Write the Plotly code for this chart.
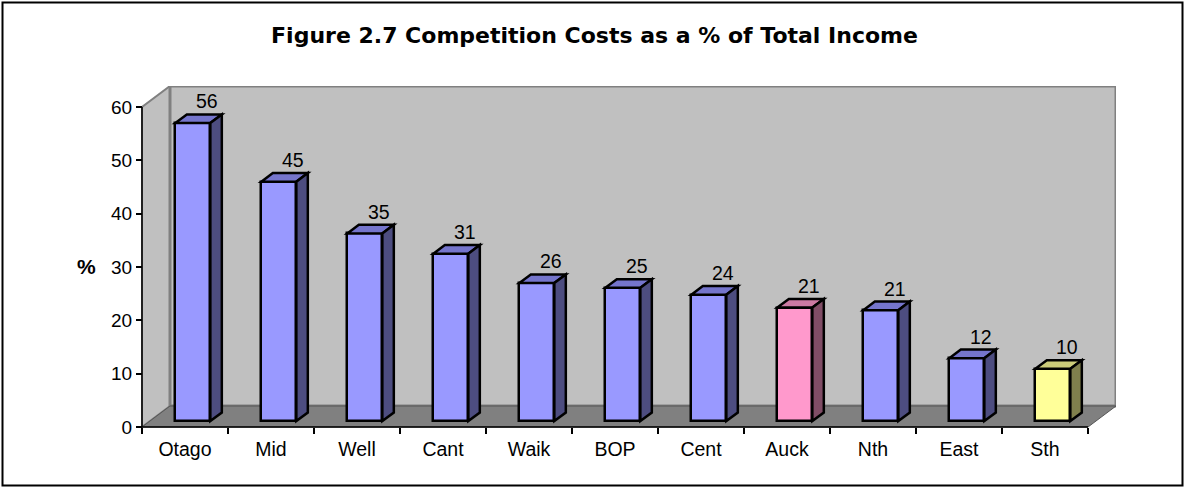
import plotly.graph_objects as go

# ---- data ----
categories = ["Otago", "Mid", "Well", "Cant", "Waik", "BOP", "Cent", "Auck", "Nth", "East", "Sth"]
values = [55.9, 44.9, 35.2, 31.4, 25.9, 25.0, 23.7, 21.3, 20.8, 11.8, 9.8]
value_labels = ["56", "45", "35", "31", "26", "25", "24", "21", "21", "12", "10"]
bar_group = ["blue", "blue", "blue", "blue", "blue", "blue", "blue", "pink", "blue", "blue", "yellow"]
y_ticks = [0, 10, 20, 30, 40, 50, 60]
title_text = "Figure 2.7 Competition Costs as a % of Total Income"
y_label = "%"

# ---- styling ----
palette = {
    "blue": ("#9999FF", "#7575CC", "#4D4D80"),
    "pink": ("#FF99CC", "#CC7AA3", "#804D66"),
    "yellow": ("#FFFF99", "#CCCC7A", "#80804D"),
}
FONT = "Liberation Sans, Arial, sans-serif"
TFONT = "DejaVu Sans, Verdana, sans-serif"
W, H = 1184, 488
ML, MR, MT, MB = 140, 68, 86, 59
ymax = 60
DX = 28 / 86.0          # depth offset in category units
DY = 21 / (320 / 60.0)  # depth offset in value units
f1, f2 = 0.28, 0.69     # bar depth position (front, back) as fraction of box depth
bw = 0.407              # bar width in category units
n = len(categories)

xr = [-0.5 - 2 / 86.0, n - 0.5 + DX]
yr = [-2 / (320 / 60.0), ymax + DY]

plot_w = W - ML - MR
plot_h = H - MT - MB


def px_to_paper_x(px):
    return (px - ML) / plot_w


def px_to_paper_y(py):
    return (H - MB - py) / plot_h


def poly(pts):
    return "M " + " L ".join(f"{x},{y}" for x, y in pts) + " Z"


shapes = []
x0, x1 = -0.5, n - 0.5
# left wall
shapes.append(dict(type="path", xref="x", yref="y", layer="below",
                   path=poly([(x0, 0), (x0, ymax), (x0 + DX, ymax + DY), (x0 + DX, DY)]),
                   fillcolor="#C0C0C0", line=dict(color="#808080", width=2)))
# back wall
shapes.append(dict(type="path", xref="x", yref="y", layer="below",
                   path=poly([(x0 + DX, DY), (x0 + DX, ymax + DY), (x1 + DX, ymax + DY), (x1 + DX, DY)]),
                   fillcolor="#C0C0C0", line=dict(color="#808080", width=3)))
# floor
shapes.append(dict(type="path", xref="x", yref="y", layer="below",
                   path=poly([(x0, 0), (x1, 0), (x1 + DX, DY), (x0 + DX, DY)]),
                   fillcolor="#808080", line=dict(color="#555555", width=1)))
# axis lines
shapes.append(dict(type="line", xref="x", yref="y", layer="below",
                   x0=x0, y0=0, x1=x0, y1=ymax, line=dict(color="black", width=1.5)))
shapes.append(dict(type="line", xref="x", yref="y", layer="below",
                   x0=x0, y0=0, x1=x1, y1=0, line=dict(color="black", width=1.5)))

# 3D top and side faces of bars
ddx = (f2 - f1) * DX
ddy = (f2 - f1) * DY
base = f1 * DY
annotations = []
for i, (v, g) in enumerate(zip(values, bar_group)):
    front, top, side = palette[g]
    xL = i + f1 * DX - bw / 2
    xR = xL + bw
    T = v + base
    shapes.append(dict(type="path", xref="x", yref="y", layer="above",
                       path=poly([(xL, T), (xR, T), (xR + ddx, T + ddy), (xL + ddx, T + ddy)]),
                       fillcolor=top, line=dict(color="black", width=2.5)))
    shapes.append(dict(type="path", xref="x", yref="y", layer="above",
                       path=poly([(xR, base), (xR, T), (xR + ddx, T + ddy), (xR + ddx, base + ddy)]),
                       fillcolor=side, line=dict(color="black", width=2.5)))
    annotations.append(dict(x=i + f2 * DX, y=T + ddy, xref="x", yref="y",
                            text=value_labels[i], showarrow=False, xshift=3, yshift=13,
                            font=dict(family=FONT, size=19.5, color="black")))

# outer frame
shapes.append(dict(type="rect", xref="paper", yref="paper", layer="above",
                   x0=px_to_paper_x(2.5), x1=px_to_paper_x(1182.5),
                   y0=px_to_paper_y(485.5), y1=px_to_paper_y(2.5),
                   line=dict(color="black", width=2), fillcolor="rgba(0,0,0,0)"))

annotations.append(dict(x=px_to_paper_x(86), y=px_to_paper_y(266), xref="paper", yref="paper",
                        xanchor="center", yanchor="middle",
                        text=f"<b>{y_label}</b>", showarrow=False,
                        font=dict(family=FONT, size=21, color="black")))

fig = go.Figure()
fig.add_trace(go.Bar(
    x=categories, y=values, base=[base] * n, width=bw, offset=f1 * DX - bw / 2,
    marker=dict(color=[palette[g][0] for g in bar_group], line=dict(color="black", width=2.5)),
    hoverinfo="skip",
))

fig.update_layout(
    width=W, height=H,
    margin=dict(l=ML, r=MR, t=MT, b=MB),
    paper_bgcolor="white", plot_bgcolor="white",
    showlegend=False,
    title=dict(text=f"<b>{title_text}</b>", x=594.5 / W, xanchor="center", y=1 - 35 / H, yanchor="middle",
               font=dict(family=TFONT, size=22, color="black")),
    xaxis=dict(type="category", range=xr, tickson="boundaries", ticks="outside", ticklen=6,
               tickcolor="black", tickwidth=1.5, showline=False, showgrid=False, zeroline=False,
               anchor="free", position=2 / plot_h,
               ticklabelstandoff=8,
               tickfont=dict(family=FONT, size=19.5, color="black")),
    yaxis=dict(range=yr, tickmode="array", tickvals=y_ticks, ticks="outside", ticklen=6,
               tickcolor="black", tickwidth=1.5, showline=False, showgrid=False, zeroline=False,
               anchor="free", position=2 / plot_w,
               tickfont=dict(family=FONT, size=19, color="black")),
    shapes=shapes,
    annotations=annotations,
    bargap=0,
)

fig.write_html("out.html", config={"displayModeBar": False},
               post_script="document.body.style.margin='0px';document.body.style.overflow='hidden';")
